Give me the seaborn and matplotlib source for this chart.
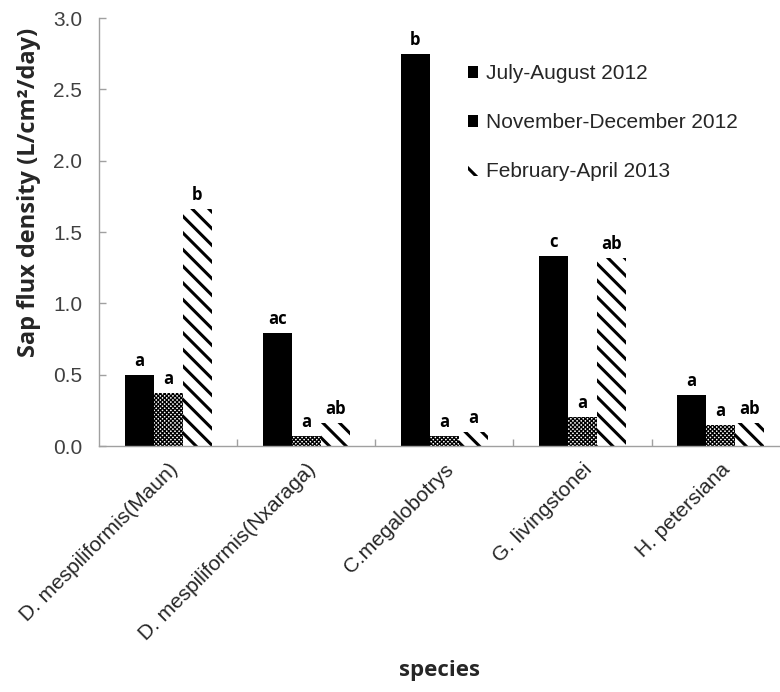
import pandas as pd
import seaborn as sns
import matplotlib.pyplot as plt
from matplotlib.ticker import FixedLocator

# data
species = ["D. mespiliformis(Maun)", "D. mespiliformis(Nxaraga)", "C.megalobotrys",
           "G. livingstonei", "H. petersiana"]
periods = ["July-August 2012", "November-December 2012", "February-April 2013"]
july_aug = [0.50, 0.79, 2.75, 1.33, 0.36]
nov_dec = [0.37, 0.07, 0.07, 0.20, 0.15]
feb_apr = [1.66, 0.16, 0.10, 1.32, 0.16]
letters_july = ["a", "ac", "b", "c", "a"]
letters_nov = ["a", "a", "a", "a", "a"]
letters_feb = ["b", "ab", "a", "ab", "ab"]

df = pd.DataFrame({
    "species": species * 3,
    "period": [p for p in periods for _ in species],
    "flux": july_aug + nov_dec + feb_apr,
})
letters = [letters_july, letters_nov, letters_feb]

sns.set_style("white")
plt.rcParams["font.family"] = ["Liberation Sans", "DejaVu Sans"]
plt.rcParams["hatch.linewidth"] = 2.2

fig = plt.figure(figsize=(7.8, 6.92), dpi=100)
ax = fig.add_axes([99 / 780, 1 - 446 / 692, 681 / 780, 428 / 692])

sns.barplot(data=df, x="species", y="flux", hue="period", order=species,
            hue_order=periods, palette=["black", "white", "white"],
            width=0.63, ax=ax)

hatches = [None, "xxxxxxxx", "\\\\"]
hatch_lw = [0, 0.95, 2.2]
for cont, h, hl, labs in zip(ax.containers, hatches, hatch_lw, letters):
    for bar, lab in zip(cont, labs):
        bar.set_linewidth(0)
        if h:
            bar.set_edgecolor("black")
            bar.set_hatch(h)
            if hasattr(bar, "set_hatch_linewidth"):
                bar.set_hatch_linewidth(hl)
        x = bar.get_x() + bar.get_width() / 2
        ax.text(x, bar.get_height() + 0.035, lab, ha="center", va="bottom",
                fontsize=12, fontweight="bold", family="Open Sans", color="black")

ax.legend_.remove()
leg = fig.legend(ax.containers, periods, loc="upper left",
                 bbox_to_anchor=(468 / 780, 1 - 64 / 692), frameon=False,
                 fontsize=15, handlelength=0.5, handleheight=0.5,
                 handletextpad=0.35, labelspacing=1.45, borderpad=0,
                 borderaxespad=0)
for t in leg.get_texts():
    t.set_color("#262626")

ax.set_ylim(0, 3.0)
ax.set_xlim(-0.5, 4.43)
ax.set_yticks([0, 0.5, 1.0, 1.5, 2.0, 2.5, 3.0])
ax.set_yticklabels([f"{v:.1f}" for v in ax.get_yticks()])
ax.xaxis.set_minor_locator(FixedLocator([0.5, 1.5, 2.5, 3.5]))
ax.tick_params(axis="y", direction="in", length=5, width=1, color="#a0a0a0",
               labelsize=15, labelcolor="#404040", pad=12, left=True)
ax.tick_params(axis="x", which="major", length=0, labelsize=15,
               labelcolor="#262626", pad=10)
ax.tick_params(axis="x", which="minor", direction="in", length=5, width=1,
               color="#a0a0a0", bottom=True)
plt.setp(ax.get_xticklabels(), rotation=45, ha="right", rotation_mode="anchor")

for side in ["top", "right"]:
    ax.spines[side].set_visible(False)
for side in ["left", "bottom"]:
    ax.spines[side].set_color("#a0a0a0")
    ax.spines[side].set_linewidth(1)

ax.set_ylabel("Sap flux density (L/cm\u00b2/day)", fontsize=17,
              fontweight="bold", family="Open Sans")
ax.yaxis.set_label_coords(-0.085, 0.593)
ax.set_xlabel("species", fontsize=16, fontweight="bold", family="Open Sans")
ax.xaxis.set_label_coords(0.5, -0.5)

fig.savefig("out.png", dpi=100)
